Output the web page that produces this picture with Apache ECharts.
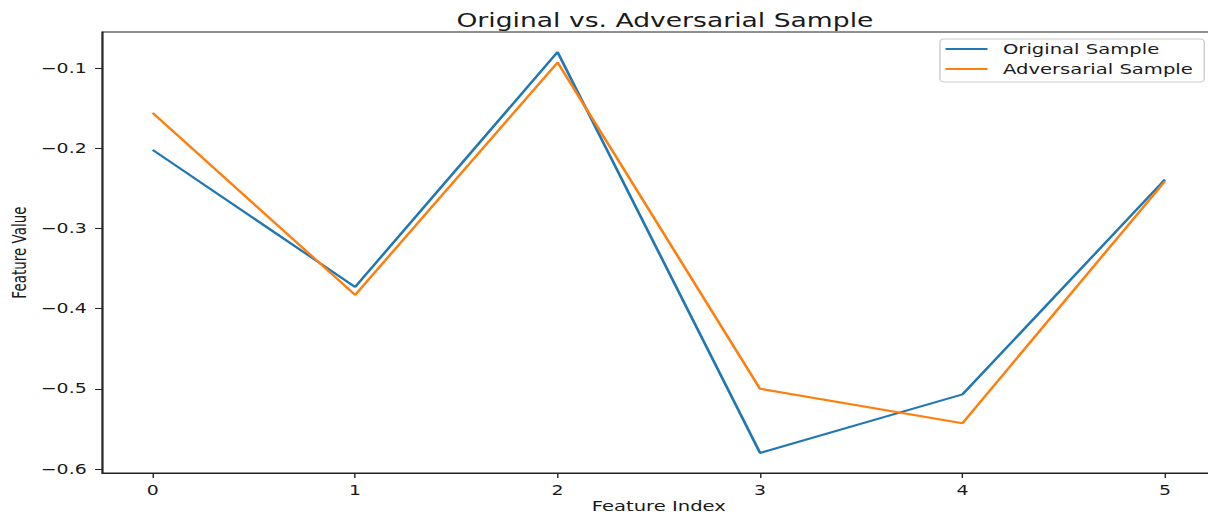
<!DOCTYPE html>
<html>
<head>
<meta charset="utf-8">
<script src="https://cdn.jsdelivr.net/npm/echarts@6/dist/echarts.min.js"></script>
<style>
html,body{margin:0;padding:0;background:#fff;overflow:hidden}
#c{width:863px;height:515px;transform:scaleX(1.39977);transform-origin:0 0}
</style>
</head>
<body>
<div id="c"></div>
<script>
const featureIndex = [0, 1, 2, 3, 4, 5];
const originalSample = [-0.202, -0.373, -0.080, -0.580, -0.507, -0.239];
const adversarialSample = [-0.156, -0.383, -0.093, -0.500, -0.543, -0.241];
const xTicks = [0, 1, 2, 3, 4, 5];
const yTicks = [-0.6, -0.5, -0.4, -0.3, -0.2, -0.1];

const font = 'DejaVu Sans';
const ink = '#1a1a1a';
const chart = echarts.init(document.getElementById('c'), null, {renderer: 'svg', width: 863, height: 515});
chart.setOption({
  animation: false,
  backgroundColor: '#fff',
  title: {
    text: 'Original vs. Adversarial Sample',
    left: 470, top: 6, textAlign: 'center',
    textStyle: {fontFamily: font, fontSize: 19, fontWeight: 'normal', color: ink}
  },
  legend: {
    orient: 'vertical', left: 671.5, top: 39,
    padding: [3, 8, 6, 4], itemGap: 6,
    itemWidth: 30, itemHeight: 2, icon: 'rect',
    borderColor: '#cccccc', borderWidth: 1, borderRadius: 3,
    textStyle: {fontFamily: font, fontSize: 14, color: ink, padding: [0, 0, 0, 6]},
    data: ['Original Sample', 'Adversarial Sample']
  },
  grid: {left: 72.9, top: 32, right: -5.4, bottom: 42, containLabel: false, outerBoundsMode: 'none',
    show: true, borderColor: '#222', borderWidth: 1},
  xAxis: {
    type: 'value', min: -0.25, max: 5.25,
    name: 'Feature Index', nameLocation: 'middle', nameGap: 26, nameMoveOverlap: false,
    nameTextStyle: {fontFamily: font, fontSize: 14, color: ink, lineHeight: 14},
    axisLine: {show: true, onZero: false, lineStyle: {color: '#222', width: 1}},
    axisTick: {show: true, length: 5, lineStyle: {color: '#222'}, customValues: xTicks},
    axisLabel: {fontFamily: font, fontSize: 13.5, color: ink, margin: 10, customValues: xTicks,
      formatter: v => String(v)},
    splitLine: {show: false}
  },
  yAxis: {
    type: 'value', min: -0.605, max: -0.055,
    name: 'Feature Value', nameLocation: 'middle', nameGap: 52, nameRotate: 90, nameMoveOverlap: false,
    nameTextStyle: {fontFamily: font, fontSize: 13.5, color: ink},
    axisLine: {show: true, onZero: false, lineStyle: {color: '#222', width: 1}},
    axisTick: {show: true, length: 5, lineStyle: {color: '#222'}, customValues: yTicks},
    axisLabel: {fontFamily: font, fontSize: 13.5, color: ink, margin: 11, customValues: yTicks,
      formatter: v => (v < 0 ? '\u2212' : '') + Math.abs(v).toFixed(1)},
    splitLine: {show: false}
  },
  series: [
    {name: 'Original Sample', type: 'line', data: featureIndex.map((x, i) => [x, originalSample[i]]),
      showSymbol: false, symbol: 'none', lineStyle: {color: '#1f77b4', width: 2}, itemStyle: {color: '#1f77b4'}},
    {name: 'Adversarial Sample', type: 'line', data: featureIndex.map((x, i) => [x, adversarialSample[i]]),
      showSymbol: false, symbol: 'none', lineStyle: {color: '#ff7f0e', width: 2}, itemStyle: {color: '#ff7f0e'}}
  ]
});
</script>
</body>
</html>
